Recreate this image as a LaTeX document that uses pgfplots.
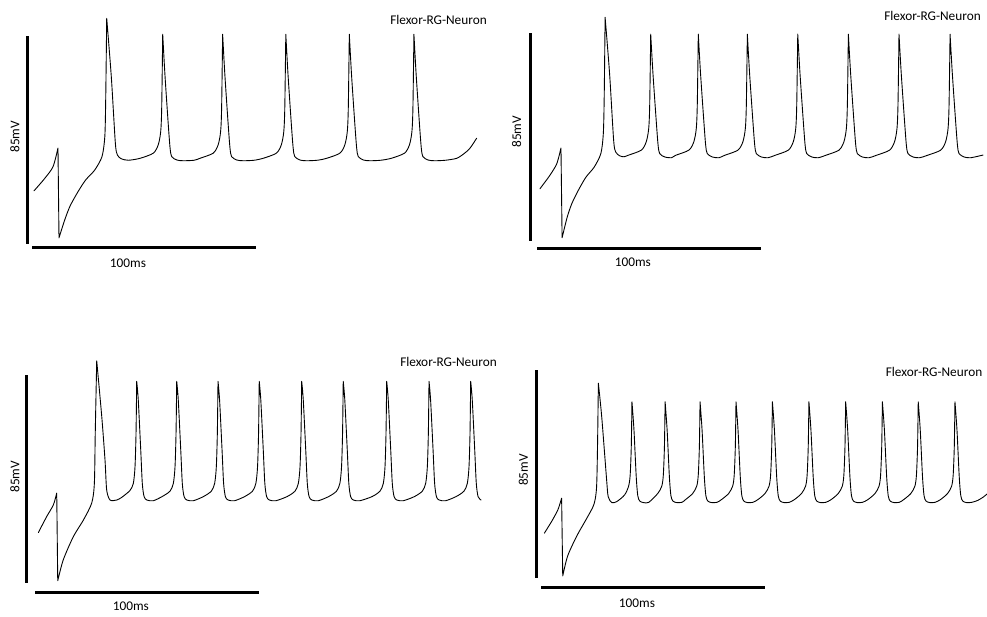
\documentclass[border=0pt]{standalone}
\usepackage{pgfplots}
\pgfplotsset{compat=1.18}
\usepackage{fontspec}
\setmainfont{Carlito}
\begin{document}
\begin{tikzpicture}
\path[use as bounding box] (0pt,0pt) rectangle (987pt,617pt);
\pgfplotsset{
  panel/.style={hide axis, scale only axis, x=2.24pt, y=2.447pt,
    xmin=-10, xmax=210, ymin=-95, ymax=25, clip=false, anchor=south west,
    unbounded coords=jump},
  trace/.style={black, line width=0.9pt, line join=round, line cap=round, no marks, smooth, tension=0.45},
  bar/.style={black, line width=3pt, no marks}
}
% ---------------- Panel 1 ----------------
\begin{axis}[panel, at={(9.6pt,324.1pt)}]
\addplot[trace] coordinates {
(0.9,-53.3) (5.7,-48.2) (9.4,-43.4) (11.6,-35.8) (11.6,nan) (11.6,-35.8) (12.05,-72.5) (12.05,nan) (12.05,-72.5) (14.6,-65.2) (17.0,-59.5)
(20.5,-53.7) (24.0,-48.8) (28.0,-44.8) (31.25,-39.3) (32.5,-31.2) (32.9,-16.2) (33.35,17.2) (33.35,nan) (33.35,17.2)
(35.4,-6.6) (37.2,-33.7) (38.1,-38.6) (39.9,-40.2) (43.0,-40.8)
(48.25,-40.0) (54.15,-37.9) (56.35,-34.5) (57.45,-29.1) (57.9,-19.4) (58.35,10.7) (58.35,nan) (58.35,10.7)
(59.35,-5.9) (60.85,-26.4) (61.65,-35.9) (62.35,-39.3) (64.65,-40.7) (67.55,-41.0) (72.35,-40.8)
(75.0,-40.0) (80.9,-37.9) (83.1,-34.5) (84.2,-29.1) (84.65,-19.4) (85.1,10.7) (85.1,nan) (85.1,10.7)
(86.1,-5.9) (87.6,-26.4) (88.4,-35.9) (89.1,-39.3) (91.4,-40.7) (94.3,-41.0) (99.1,-40.8)
(103.2,-40.0) (109.1,-37.9) (111.3,-34.5) (112.4,-29.1) (112.85,-19.4) (113.3,10.7) (113.3,nan) (113.3,10.7)
(114.3,-5.9) (115.8,-26.4) (116.6,-35.9) (117.3,-39.3) (119.6,-40.7) (122.5,-41.0) (127.3,-40.8)
(131.55,-40.0) (137.45,-37.9) (139.65,-34.5) (140.75,-29.1) (141.2,-19.4) (141.65,10.7) (141.65,nan) (141.65,10.7)
(142.65,-5.9) (144.15,-26.4) (144.95,-35.9) (145.65,-39.3) (147.95,-40.7) (150.85,-41.0) (155.65,-40.8)
(160.4,-40.0) (166.3,-37.9) (168.5,-34.5) (169.6,-29.1) (170.05,-19.4) (170.5,10.7) (170.5,nan) (170.5,10.7)
(171.5,-5.9) (173.0,-26.4) (173.8,-35.9) (174.5,-39.3) (176.8,-40.7) (179.7,-41.0) (184.5,-40.8)
(189.6,-40.0) (193.0,-38.0) (195.5,-35.9) (198.5,-31.8)
};
\addplot[bar] coordinates {(0,-76.6) (100,-76.6)};
\addplot[bar] coordinates {(-2.2,-75) (-2.2,10)};
\end{axis}
% ---------------- Panel 2 ----------------
\begin{axis}[panel, at={(514.6pt,327.1pt)}]
\addplot[trace] coordinates {
(1.3,-53.7) (5.5,-48.5) (8.8,-43.5) (10.7,-37.0) (10.7,nan) (10.7,-37.0) (11.2,-73.7) (11.2,nan) (11.2,-73.7) (13.5,-65.2) (15.65,-59.5)
(18.8,-53.7) (21.95,-48.8) (25.55,-44.8) (28.5,-39.3) (29.6,-31.2) (30.0,-16.2) (30.4,16.4) (30.4,nan) (30.4,16.4)
(32.4,-6.6) (34.2,-33.7) (35.1,-38.6) (36.9,-40.2) (38.8,-40.6)
(40.66,-40.0) (46.56,-37.9) (48.76,-34.5) (49.86,-29.1) (50.31,-19.4) (50.76,9.5) (50.76,nan) (50.76,9.5)
(51.76,-6.5) (53.26,-26.4) (54.06,-35.9) (54.76,-39.3) (57.06,-40.7) (59.96,-41.0)
(61.9,-40.0) (67.8,-37.9) (70.0,-34.5) (71.1,-29.1) (71.55,-19.4) (72.0,9.5) (72.0,nan) (72.0,9.5)
(73.0,-6.5) (74.5,-26.4) (75.3,-35.9) (76.0,-39.3) (78.3,-40.7) (81.2,-41.0)
(83.8,-40.0) (89.7,-37.9) (91.9,-34.5) (93.0,-29.1) (93.45,-19.4) (93.9,9.5) (93.9,nan) (93.9,9.5)
(94.9,-6.5) (96.4,-26.4) (97.2,-35.9) (97.9,-39.3) (100.2,-40.7) (103.1,-41.0)
(106.3,-40.0) (112.2,-37.9) (114.4,-34.5) (115.5,-29.1) (115.95,-19.4) (116.4,9.5) (116.4,nan) (116.4,9.5)
(117.4,-6.5) (118.9,-26.4) (119.7,-35.9) (120.4,-39.3) (122.7,-40.7) (125.6,-41.0)
(128.9,-40.0) (134.8,-37.9) (137.0,-34.5) (138.1,-29.1) (138.55,-19.4) (139.0,9.5) (139.0,nan) (139.0,9.5)
(140.0,-6.5) (141.5,-26.4) (142.3,-35.9) (143.0,-39.3) (145.3,-40.7) (148.2,-41.0)
(151.5,-40.0) (157.4,-37.9) (159.6,-34.5) (160.7,-29.1) (161.15,-19.4) (161.6,9.5) (161.6,nan) (161.6,9.5)
(162.6,-6.5) (164.1,-26.4) (164.9,-35.9) (165.6,-39.3) (167.9,-40.7) (170.8,-41.0)
(174.3,-40.0) (180.2,-37.9) (182.4,-34.5) (183.5,-29.1) (183.95,-19.4) (184.4,9.5) (184.4,nan) (184.4,9.5)
(185.4,-6.5) (186.9,-26.4) (187.7,-35.9) (188.4,-39.3) (190.7,-40.7) (193.6,-41.0) (199.1,-39.9)
};
\addplot[bar] coordinates {(0,-77.9) (100,-77.9)};
\addplot[bar] coordinates {(-3.1,-75) (-3.1,10)};
\end{axis}
% ---------------- Panel 3 ----------------
\begin{axis}[panel, at={(12.6pt,-14.9pt)}]
\addplot[trace] coordinates {
(1.5,-54.4) (5.2,-47.9) (8.2,-43.1) (9.7,-38.3) (9.7,nan) (9.7,-38.3) (10.15,-74.1) (10.15,nan) (10.15,-74.1) (12.6,-65.6) (17.1,-56.1)
(21.6,-49.3) (25.3,-42.4) (26.5,-34.3) (26.9,-13.7) (27.55,15.8) (27.55,nan) (27.55,15.8)
(29.8,-7.0) (31.25,-24.7) (32.0,-37.0) (33.5,-41.1) (36.5,-41.1)
(38.9,-39.9) (42.4,-37.2) (43.9,-34.3) (44.65,-27.5) (45.1,-13.8) (45.4,7.4) (45.4,nan) (45.4,7.4)
(46.1,-0.2) (47.2,-20.6) (47.9,-34.3) (48.7,-39.7) (49.9,-41.1) (52.8,-41.4)
(56.76,-39.7) (60.26,-37.5) (61.76,-34.3) (62.51,-27.5) (62.96,-13.8) (63.26,7.4) (63.26,nan) (63.26,7.4)
(63.96,-0.2) (65.06,-20.6) (65.76,-34.3) (66.56,-39.7) (67.76,-41.1) (70.66,-41.4)
(75.2,-39.7) (78.7,-37.5) (80.2,-34.3) (80.95,-27.5) (81.4,-13.8) (81.7,7.4) (81.7,nan) (81.7,7.4)
(82.4,-0.2) (83.5,-20.6) (84.2,-34.3) (85.0,-39.7) (86.2,-41.1) (89.1,-41.4)
(93.6,-39.7) (97.1,-37.5) (98.6,-34.3) (99.35,-27.5) (99.8,-13.8) (100.1,7.4) (100.1,nan) (100.1,7.4)
(100.8,-0.2) (101.9,-20.6) (102.6,-34.3) (103.4,-39.7) (104.6,-41.1) (107.5,-41.4)
(112.56,-39.7) (116.06,-37.5) (117.56,-34.3) (118.31,-27.5) (118.76,-13.8) (119.06,7.4) (119.06,nan) (119.06,7.4)
(119.76,-0.2) (120.86,-20.6) (121.56,-34.3) (122.36,-39.7) (123.56,-41.1) (126.46,-41.4)
(131.1,-39.7) (134.6,-37.5) (136.1,-34.3) (136.85,-27.5) (137.3,-13.8) (137.6,7.4) (137.6,nan) (137.6,7.4)
(138.3,-0.2) (139.4,-20.6) (140.1,-34.3) (140.9,-39.7) (142.1,-41.1) (145.0,-41.4)
(150.5,-39.7) (154.0,-37.5) (155.5,-34.3) (156.25,-27.5) (156.7,-13.8) (157.0,7.4) (157.0,nan) (157.0,7.4)
(157.7,-0.2) (158.8,-20.6) (159.5,-34.3) (160.3,-39.7) (161.5,-41.1) (164.4,-41.4)
(169.4,-39.7) (172.9,-37.5) (174.4,-34.3) (175.15,-27.5) (175.6,-13.8) (175.9,7.4) (175.9,nan) (175.9,7.4)
(176.6,-0.2) (177.7,-20.6) (178.4,-34.3) (179.2,-39.7) (180.4,-41.1) (183.3,-41.4)
(188.0,-39.7) (191.5,-37.5) (193.0,-34.3) (193.75,-27.5) (194.2,-13.8) (194.5,7.4) (194.5,nan) (194.5,7.4)
(195.2,-0.2) (196.3,-20.6) (197.0,-34.3) (197.8,-39.7) (199.1,-41.1)
};
\addplot[bar] coordinates {(0,-78.7) (100,-78.7)};
\addplot[bar] coordinates {(-3.6,-75) (-3.6,10)};
\end{axis}
% ---------------- Panel 4 ----------------
\begin{axis}[panel, at={(518.6pt,-9.9pt)}]
\addplot[trace] coordinates {
(1.5,-56.7) (5.0,-51.5) (7.6,-47.0) (9.2,-42.4) (9.2,nan) (9.2,-42.4) (9.7,-74.2) (9.7,nan) (9.7,-74.2) (11.9,-66.0) (16.0,-57.8)
(20.2,-51.0) (23.6,-45.0) (24.8,-38.0) (25.25,-20.0) (25.6,4.6) (25.6,nan) (25.6,4.6)
(27.1,-9.1) (29.3,-35.0) (30.0,-41.8) (31.6,-44.2) (33.8,-43.8)
(37.3,-41.1) (39.1,-37.5) (39.8,-33.0) (40.3,-21.3) (40.6,-3.0) (40.6,nan) (40.6,-3.0)
(41.5,-14.5) (42.5,-33.5) (43.2,-41.4) (44.1,-43.6) (45.8,-44.2) (48.1,-44.1)
(52.1,-40.5) (53.9,-37.5) (54.6,-33.0) (55.1,-21.3) (55.4,-3.0) (55.4,nan) (55.4,-3.0)
(56.3,-14.5) (57.3,-33.5) (58.0,-41.4) (58.9,-43.6) (60.6,-44.2) (62.9,-44.1)
(64.5,-43.0) (67.7,-40.5) (69.5,-37.5) (70.2,-33.0) (70.7,-21.3) (71.0,-3.0) (71.0,nan) (71.0,-3.0)
(71.9,-14.5) (72.9,-33.5) (73.6,-41.4) (74.5,-43.6) (76.2,-44.2) (78.5,-44.1)
(80.55,-43.0) (83.75,-40.5) (85.55,-37.5) (86.25,-33.0) (86.75,-21.3) (87.05,-3.0) (87.05,nan) (87.05,-3.0)
(87.95,-14.5) (88.95,-33.5) (89.65,-41.4) (90.55,-43.6) (92.25,-44.2) (94.55,-44.1)
(96.8,-43.0) (100.0,-40.5) (101.8,-37.5) (102.5,-33.0) (103.0,-21.3) (103.3,-3.0) (103.3,nan) (103.3,-3.0)
(104.2,-14.5) (105.2,-33.5) (105.9,-41.4) (106.8,-43.6) (108.5,-44.2) (110.8,-44.1)
(113.1,-43.0) (116.3,-40.5) (118.1,-37.5) (118.8,-33.0) (119.3,-21.3) (119.6,-3.0) (119.6,nan) (119.6,-3.0)
(120.5,-14.5) (121.5,-33.5) (122.2,-41.4) (123.1,-43.6) (124.8,-44.2) (127.1,-44.1)
(129.5,-43.0) (132.7,-40.5) (134.5,-37.5) (135.2,-33.0) (135.7,-21.3) (136.0,-3.0) (136.0,nan) (136.0,-3.0)
(136.9,-14.5) (137.9,-33.5) (138.6,-41.4) (139.5,-43.6) (141.2,-44.2) (143.5,-44.1)
(145.9,-43.0) (149.1,-40.5) (150.9,-37.5) (151.6,-33.0) (152.1,-21.3) (152.4,-3.0) (152.4,nan) (152.4,-3.0)
(153.3,-14.5) (154.3,-33.5) (155.0,-41.4) (155.9,-43.6) (157.6,-44.2) (159.9,-44.1)
(161.9,-43.0) (165.1,-40.5) (166.9,-37.5) (167.6,-33.0) (168.1,-21.3) (168.4,-3.0) (168.4,nan) (168.4,-3.0)
(169.3,-14.5) (170.3,-33.5) (171.0,-41.4) (171.9,-43.6) (173.6,-44.2) (175.9,-44.1)
(178.3,-43.0) (181.5,-40.5) (183.3,-37.5) (184.0,-33.0) (184.5,-21.3) (184.8,-3.0) (184.8,nan) (184.8,-3.0)
(185.7,-14.5) (186.7,-33.5) (187.4,-41.4) (188.3,-43.6) (190.0,-44.2) (192.3,-44.1)
(195.0,-43.3) (197.5,-41.9) (199.1,-40.7)
};
\addplot[bar] coordinates {(0,-79.1) (100,-79.1)};
\addplot[bar] coordinates {(-2.2,-75) (-2.2,10)};
\end{axis}
% ---------------- Text ----------------
\begin{scope}[every node/.style={inner sep=0pt, font=\fontsize{13.3}{16}\selectfont}]
\node at (438.5pt,597pt) {Flexor-RG-Neuron};
\node at (932.5pt,601pt) {Flexor-RG-Neuron};
\node at (448.5pt,255.3pt) {Flexor-RG-Neuron};
\node at (934pt,245.3pt) {Flexor-RG-Neuron};
\node[rotate=90] at (15pt,480.3pt) {85mV};
\node[rotate=90] at (516.7pt,485.3pt) {85mV};
\node[rotate=90] at (15pt,140.3pt) {85mV};
\node[rotate=90] at (523.3pt,147pt) {85mV};
\node at (128pt,353.7pt) {100ms};
\node at (632.8pt,354.3pt) {100ms};
\node at (130.8pt,11pt) {100ms};
\node at (637pt,13.7pt) {100ms};
\end{scope}
\end{tikzpicture}
\end{document}
